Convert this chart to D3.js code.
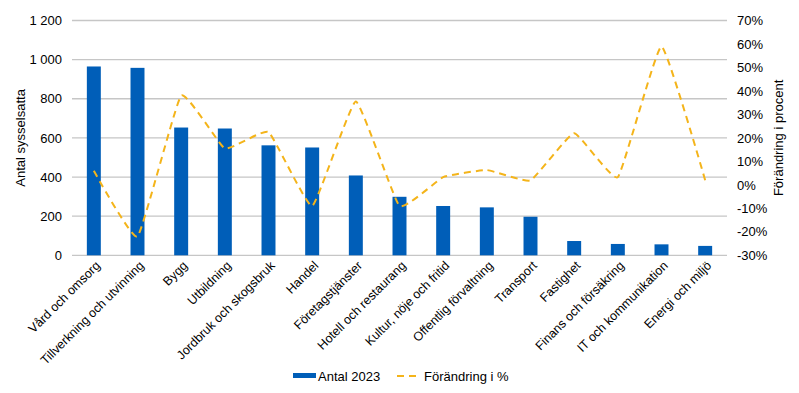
<!DOCTYPE html>
<html><head><meta charset="utf-8">
<script src="https://cdn.jsdelivr.net/npm/d3@7"></script>
<style>body{margin:0;background:#fff}svg{display:block}text{font-family:"Liberation Sans",Arial,Helvetica,sans-serif;fill:#000}</style>
</head><body><svg id="c" width="799" height="393"></svg>
<script>
const categories = ["Vård och omsorg","Tillverkning och utvinning","Bygg","Utbildning","Jordbruk och skogsbruk","Handel","Företagstjänster","Hotell och restaurang","Kultur, nöje och fritid","Offentlig förvaltning","Transport","Fastighet","Finans och försäkring","IT och kommunikation","Energi och miljö"];
const antal2023 = [965, 958, 653, 648, 562, 551, 408, 299, 252, 245, 197, 73, 58, 56, 48];
const forandring = [6, -22, 38, 15.5, 22.5, -9, 35.5, -9, 3.3, 6.3, 1.9, 22, 3.3, 59, 2];
const leftTicks = [0, 200, 400, 600, 800, 1000, 1200];
const rightTicks = [-30, -20, -10, 0, 10, 20, 30, 40, 50, 60, 70];

const svg = d3.select("#c");
const L = 72, R = 727, T = 20.5, B = 255.3;
const x = d3.scaleBand().domain(categories).range([L, R]).paddingInner(0.68).paddingOuter(0.34);
const yL = d3.scaleLinear().domain([0, 1200]).range([B, T]);
const yR = d3.scaleLinear().domain([-30, 70]).range([B, T]);
const fmtL = d => d3.format(",")(d).replace(/,/g, " ");

// gridlines
svg.append("g").selectAll("line").data(leftTicks).join("line")
  .attr("x1", L).attr("x2", R).attr("y1", d => yL(d)).attr("y2", d => yL(d))
  .attr("stroke", "#c6c6c6").attr("stroke-width", 1.3);

// left axis
const gl = svg.append("g").attr("transform", `translate(${L},0)`)
  .call(d3.axisLeft(yL).tickValues(leftTicks).tickFormat(fmtL).tickSize(0).tickPadding(10));
gl.select(".domain").remove();
gl.selectAll("text").style("font-size", "13px").style("font-family", "Liberation Sans, Arial, sans-serif");

// right axis
const gr = svg.append("g").attr("transform", `translate(${R},0)`)
  .call(d3.axisRight(yR).tickValues(rightTicks).tickFormat(d => d + "%").tickSize(0).tickPadding(10));
gr.select(".domain").remove();
gr.selectAll("text").style("font-size", "13px").style("font-family", "Liberation Sans, Arial, sans-serif");

// bars
svg.append("g").selectAll("rect").data(categories).join("rect")
  .attr("x", d => x(d)).attr("width", x.bandwidth())
  .attr("y", (d, i) => yL(antal2023[i])).attr("height", (d, i) => B - yL(antal2023[i]))
  .attr("fill", "#005eb8");

// line
const line = d3.line().x((d, i) => x(categories[i]) + x.bandwidth() / 2).y(d => yR(d)).curve(d3.curveCardinal.tension(0.65));
svg.append("path").attr("d", line(forandring)).attr("fill", "none")
  .attr("stroke", "#f4b41a").attr("stroke-width", 2).attr("stroke-dasharray", "7,5");

// x labels
svg.append("g").selectAll("text").data(categories).join("text")
  .attr("transform", d => `translate(${x(d) + x.bandwidth() / 2 + 4},${B + 8}) rotate(-45)`)
  .attr("text-anchor", "end").attr("dy", "0.35em").style("font-size", "12.5px").text(d => d);

// axis titles
svg.append("text").attr("transform", `translate(25,${(T + B) / 2}) rotate(-90)`)
  .attr("text-anchor", "middle").style("font-size", "13px").text("Antal sysselsatta");
svg.append("text").attr("transform", `translate(774,${(T + B) / 2}) rotate(-90)`)
  .attr("text-anchor", "middle").attr("dy", "0.7em").style("font-size", "13px").text("Förändring i procent");

// legend
const lg = svg.append("g");
lg.append("rect").attr("x", 293).attr("y", 373).attr("width", 23).attr("height", 5).attr("fill", "#005eb8");
lg.append("text").attr("x", 318).attr("y", 376).attr("dy", "0.35em").style("font-size", "13px").text("Antal 2023");
lg.append("line").attr("x1", 397).attr("x2", 419).attr("y1", 376).attr("y2", 376)
  .attr("stroke", "#f4b41a").attr("stroke-width", 2).attr("stroke-dasharray", "7,5");
lg.append("text").attr("x", 424).attr("y", 376).attr("dy", "0.35em").style("font-size", "13px").text("Förändring i %");
</script></body></html>
